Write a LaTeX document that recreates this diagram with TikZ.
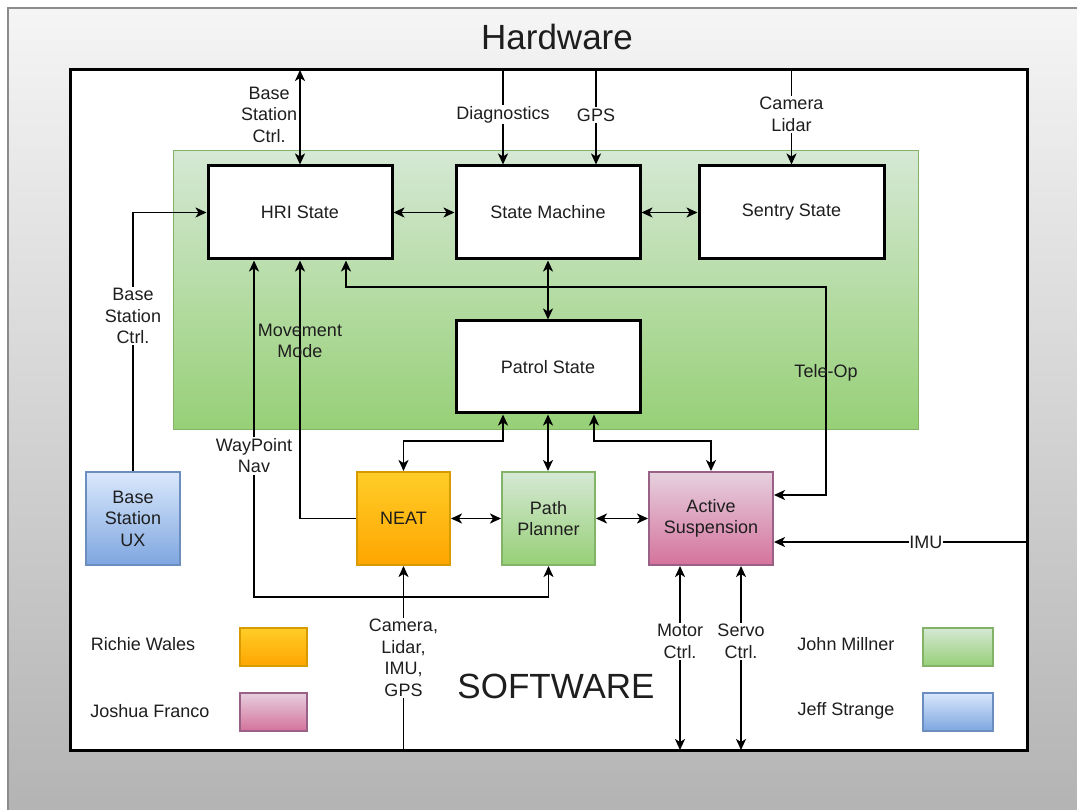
\documentclass[tikz,border=0pt]{standalone}
\usepackage{fontspec}
\setmainfont{Liberation Sans}
\usetikzlibrary{arrows.meta}
\definecolor{orTop}{HTML}{FFCD28}
\definecolor{orBot}{HTML}{FFA500}
\definecolor{orStroke}{HTML}{D79B00}
\definecolor{grTop}{HTML}{D5E8D4}
\definecolor{grBot}{HTML}{97D077}
\definecolor{grStroke}{HTML}{82B366}
\definecolor{pkTop}{HTML}{E6D0DE}
\definecolor{pkBot}{HTML}{D5739D}
\definecolor{pkStroke}{HTML}{996185}
\definecolor{blTop}{HTML}{DAE8FC}
\definecolor{blBot}{HTML}{7EA6E0}
\definecolor{blStroke}{HTML}{6C8EBF}
\definecolor{frTop}{HTML}{F5F5F5}
\definecolor{frBot}{HTML}{B3B3B3}
\definecolor{frStroke}{HTML}{8C8C8C}
\definecolor{txt}{HTML}{1E1E1E}
\begin{document}
\begin{tikzpicture}[x=1pt,y=-1pt,
  font=\fontsize{18}{21.5}\selectfont, text=txt,
  lbl/.style={align=center, inner sep=1.5pt},
  wlbl/.style={lbl, fill=white},
  big/.style={font=\fontsize{35}{40}\selectfont, inner sep=0pt},
  state/.style={draw=black, line width=3pt, fill=white, minimum width=184pt, minimum height=93pt, inner sep=0pt},
  sbox/.style={line width=2pt, minimum width=93pt, minimum height=93pt, align=center, inner sep=0pt},
  lgbox/.style={line width=2pt, minimum width=67pt, minimum height=38pt, inner sep=0pt},
  orangebox/.style={draw=orStroke, top color=orTop, bottom color=orBot},
  greenbox/.style={draw=grStroke, top color=grTop, bottom color=grBot},
  pinkbox/.style={draw=pkStroke, top color=pkTop, bottom color=pkBot},
  bluebox/.style={draw=blStroke, top color=blTop, bottom color=blBot},
  conn/.style={line width=1.8pt, draw=black},
  arr/.style={conn, -{Stealth[length=11pt,width=10pt,inset=3pt]}},
  dbl/.style={conn, {Stealth[length=11pt,width=10pt,inset=3pt]}-{Stealth[length=11pt,width=10pt,inset=3pt]}},
]
\clip (0,0) rectangle (1077,810);
% outer hardware frame
\shade[top color=frTop, bottom color=frBot] (8,8) rectangle (1100,816);
\draw[frStroke, line width=2pt] (8,8) rectangle (1100,816);
\node[big] (hw) at (557,37) {Hardware};
% software box
\node[draw=black, line width=3pt, fill=white, minimum width=957pt, minimum height=680pt, outer sep=0pt, inner sep=0pt] (sw) at (548.5,410) {};
\node[big] (swl) at (556,686) {SOFTWARE};
% green state container
\node[greenbox, line width=1pt, minimum width=745pt, minimum height=278pt, inner sep=0pt] (grp) at (545.5,290) {};
% states
\node[state] (hri) at (300,212.5) {HRI State};
\node[state] (sm) at (548,212.5) {State Machine};
\node[state, minimum width=185pt] (sentry) at (791.5,212.5) {Sentry State};
\node[state, minimum height=92pt] (patrol) at (548,367) {Patrol State};
% software modules
\node[sbox, orangebox] (neat) at (403.5,518.5) {NEAT};
\node[sbox, greenbox] (pp) at (548.5,518.5) {Path\\Planner};
\node[sbox, pinkbox, minimum width=124pt] (as) at (711,518.5) {Active\\Suspension};
\node[sbox, bluebox, minimum width=94pt] (bsux) at (133,518.5) {Base\\Station\\UX};
% legend
\node (tr) at (143,644) {Richie Wales};
\node[lgbox, orangebox] (lr) at (273.5,647) {};
\node (tj) at (150,711) {Joshua Franco};
\node[lgbox, pinkbox] (lj) at (273.5,711.5) {};
\node (tm) at (846,644) {John Millner};
\node[lgbox, greenbox, minimum width=70pt] (lm) at (958,647) {};
\node (ts) at (846,711) {Jeff Strange};
\node[lgbox, bluebox, minimum width=70pt] (ls) at (958,711.5) {};
% coordinates for free ends
\coordinate (diag) at (503,70);
\coordinate (gps) at (596,70);
\coordinate (motor) at (680,750);
\coordinate (servo) at (741,750);
\coordinate (imuR) at (1027,542);
% connectors among states
\draw[dbl] (hri.east) -- (sm.west);
\draw[dbl] (sm.east) -- (sentry.west);
\draw[dbl] (sm.south) -- (patrol.north);
% from hardware at top
\draw[dbl] (hri.north) -- (hri.north |- sw.north) node[lbl, pos=0.53, anchor=east, xshift=-0.5pt] {Base\\Station\\Ctrl.};
\draw[arr] (diag) -- (diag |- sm.north) node[wlbl, pos=0.47] {Diagnostics};
\draw[arr] (gps) -- (gps |- sm.north) node[wlbl, pos=0.48] {GPS};
\draw[arr] (sentry.north |- sw.north) -- (sentry.north) node[wlbl, pos=0.47] {Camera\\Lidar};
% base station UX
\draw[arr] (bsux.north) |- (hri.west) node[wlbl, pos=0.3] {Base\\Station\\Ctrl.};
% waypoint nav
\draw[dbl] ([xshift=-46pt]hri.south) -- ++(0,336.5) node[wlbl, pos=0.58] {WayPoint\\Nav} -| (pp.south);
% movement mode
\draw[arr] (neat.west) -| (hri.south) node[lbl, pos=0.844] {Movement\\Mode};
% tele-op
\draw[dbl] ([xshift=46pt]hri.south) -- ++(0,26.5) -- ++(480,0) |- ([yshift=23.5pt]as.east) node[lbl, pos=0.207] {Tele-Op};
% patrol to modules
\draw[dbl] ([xshift=-45pt]patrol.south) -- ++(0,26.5) -| (neat.north);
\draw[dbl] (patrol.south) -- (patrol.south |- pp.north);
\draw[dbl] ([xshift=46pt]patrol.south) -- ++(0,26.5) -| (as.north);
\draw[dbl] (neat.east) -- (pp.west);
\draw[dbl] (pp.east) -- (as.west);
% from hardware at bottom / right
\draw[arr] (neat.south |- sw.south) -- (neat.south) node[wlbl, midway] {Camera,\\Lidar,\\IMU,\\GPS};
\draw[dbl] (motor |- as.south) -- (motor) node[wlbl, pos=0.41] {Motor\\Ctrl.};
\draw[dbl] (servo |- as.south) -- (servo) node[wlbl, pos=0.41] {Servo\\Ctrl.};
\draw[arr] (imuR) -- (imuR -| as.east) node[wlbl, pos=0.4, inner sep=0.5pt] {IMU};
\end{tikzpicture}
\end{document}
